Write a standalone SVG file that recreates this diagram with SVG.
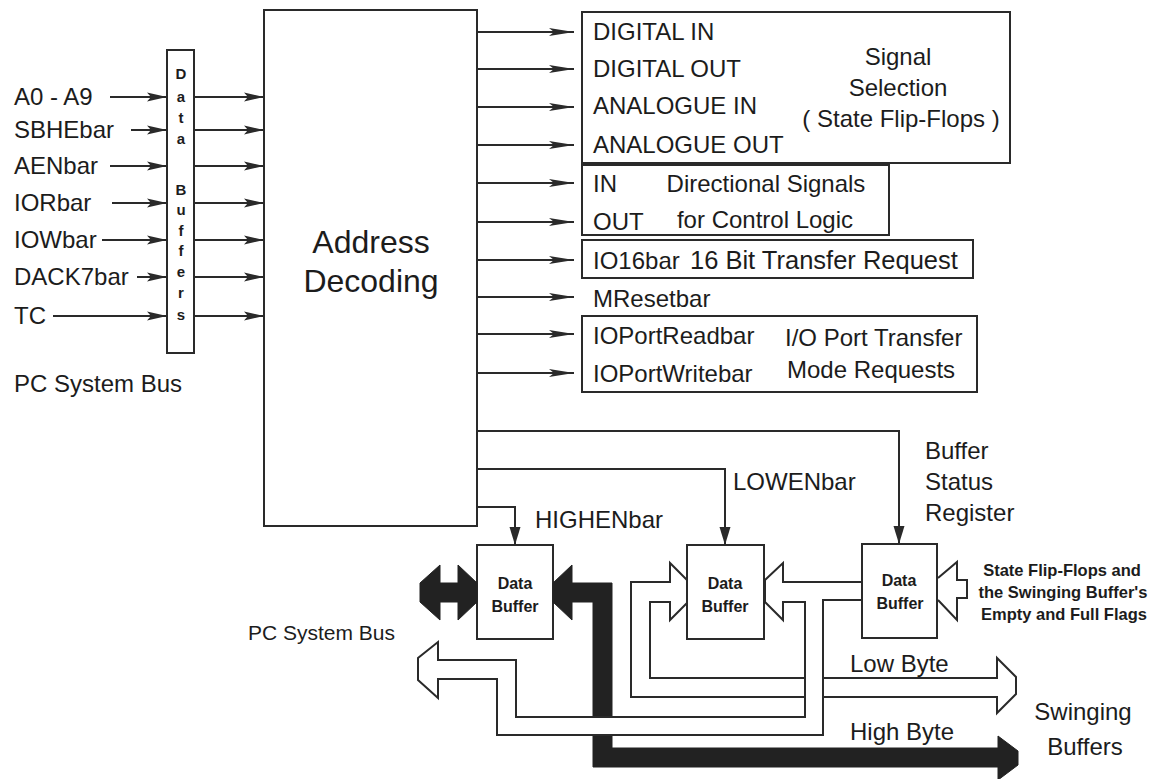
<svg xmlns="http://www.w3.org/2000/svg" width="1158" height="779" viewBox="0 0 1158 779">
<style>
.t{font-family:"Liberation Sans",Arial,sans-serif;font-size:24px;fill:#1c1c1c}
.tb{font-family:"Liberation Sans",Arial,sans-serif;font-weight:bold;fill:#1c1c1c}
.box{fill:#fff;stroke:#2a2a2a;stroke-width:2}
.ln{fill:none;stroke:#2a2a2a;stroke-width:2}
.blk{fill:#222;stroke:#222;stroke-width:1}
</style>
<defs>
<marker id="ahL" markerUnits="userSpaceOnUse" markerWidth="22" markerHeight="10" refX="20" refY="5" orient="auto"><path d="M0,0.5 L20,5 L0,9.5 L4,5 z" fill="#2a2a2a"/></marker>
<marker id="ahR" markerUnits="userSpaceOnUse" markerWidth="27" markerHeight="10" refX="25" refY="5" orient="auto"><path d="M0,1 L25,5 L0,9 L5,5 z" fill="#2a2a2a"/></marker>
<marker id="ahD" markerUnits="userSpaceOnUse" markerWidth="20" markerHeight="12" refX="18" refY="6" orient="auto"><path d="M0,0.5 L18,6 L0,11.5 z" fill="#2a2a2a"/></marker>
</defs>

<g id="pc-bus-inputs">
<text class="t" x="14" y="105">A0 - A9</text>
<text class="t" x="14" y="138">SBHEbar</text>
<text class="t" x="14" y="174">AENbar</text>
<text class="t" x="14" y="211">IORbar</text>
<text class="t" x="14" y="248">IOWbar</text>
<text class="t" x="14" y="285">DACK7bar</text>
<text class="t" x="14" y="324">TC</text>
<text class="t" x="14" y="392">PC System Bus</text>
</g>

<g id="data-buffers">
<rect class="box" x="167" y="50" width="27" height="303"/>
<g class="tb" font-size="15" text-anchor="middle">
<text x="181" y="79">D</text>
<text x="181" y="102">a</text>
<text x="181" y="123">t</text>
<text x="181" y="144">a</text>
<text x="181" y="195">B</text>
<text x="181" y="215">u</text>
<text x="181" y="236">f</text>
<text x="181" y="256">f</text>
<text x="181" y="277">e</text>
<text x="181" y="298">r</text>
<text x="181" y="320">s</text>
</g>
</g>

<g id="address-decoding">
<rect class="box" x="264" y="10" width="213" height="516"/>
<text class="t" x="371" y="253" style="font-size:32px" text-anchor="middle">Address</text>
<text class="t" x="371" y="292" style="font-size:32px" text-anchor="middle">Decoding</text>
</g>

<g id="signal-selection">
<rect class="box" x="582" y="12" width="428" height="151"/>
<text class="t" x="593" y="40">DIGITAL IN</text>
<text class="t" x="593" y="77">DIGITAL OUT</text>
<text class="t" x="593" y="114">ANALOGUE IN</text>
<text class="t" x="593" y="153">ANALOGUE OUT</text>
<text class="t" x="898" y="65" text-anchor="middle">Signal</text>
<text class="t" x="898" y="96" text-anchor="middle">Selection</text>
<text class="t" x="901" y="127" text-anchor="middle">( State Flip-Flops )</text>
</g>

<g id="directional-signals">
<rect class="box" x="582" y="165" width="307" height="70"/>
<text class="t" x="593" y="192">IN</text>
<text class="t" x="593" y="230">OUT</text>
<text class="t" x="766" y="192" text-anchor="middle">Directional Signals</text>
<text class="t" x="765" y="228" text-anchor="middle">for Control Logic</text>
</g>

<g id="io16">
<rect class="box" x="582" y="240" width="391" height="38"/>
<text class="t" x="593" y="269">IO16bar</text>
<text class="t" x="690" y="269" style="font-size:25.5px">16 Bit Transfer Request</text>
</g>

<g id="mreset">
<text class="t" x="593" y="307">MResetbar</text>
</g>

<g id="ioport">
<rect class="box" x="582" y="316" width="395" height="76"/>
<text class="t" x="593" y="344">IOPortReadbar</text>
<text class="t" x="593" y="382">IOPortWritebar</text>
<text class="t" x="785" y="346">I/O Port Transfer</text>
<text class="t" x="787" y="378">Mode Requests</text>
</g>

<g id="data-buffer-high">
<rect class="box" x="477" y="545" width="76" height="94"/>
<text class="tb" x="515" y="589" font-size="16" text-anchor="middle">Data</text>
<text class="tb" x="515" y="612" font-size="16" text-anchor="middle">Buffer</text>
</g>
<g id="data-buffer-low">
<rect class="box" x="687" y="545" width="77" height="94"/>
<text class="tb" x="725" y="589" font-size="16" text-anchor="middle">Data</text>
<text class="tb" x="725" y="612" font-size="16" text-anchor="middle">Buffer</text>
</g>
<g id="data-buffer-status">
<rect class="box" x="862" y="544" width="75" height="94"/>
<text class="tb" x="899" y="586" font-size="16" text-anchor="middle">Data</text>
<text class="tb" x="900" y="609" font-size="16" text-anchor="middle">Buffer</text>
</g>

<g id="labels">
<text class="t" x="535" y="528">HIGHENbar</text>
<text class="t" x="733" y="490">LOWENbar</text>
<text class="t" x="925" y="459">Buffer</text>
<text class="t" x="925" y="490">Status</text>
<text class="t" x="925" y="521">Register</text>
<g class="tb" font-size="16.5" text-anchor="middle">
<text x="1062" y="576">State Flip-Flops and</text>
<text x="1063" y="598">the Swinging Buffer's</text>
<text x="1064" y="620">Empty and Full Flags</text>
</g>
<text class="t" x="248" y="640" style="font-size:21px">PC System Bus</text>
<text class="t" x="850" y="672">Low Byte</text>
<text class="t" x="850" y="740">High Byte</text>
<text class="t" x="1083" y="720" text-anchor="middle">Swinging</text>
<text class="t" x="1085" y="755" text-anchor="middle">Buffers</text>
</g>

<g id="connectors">
<g class="ln" marker-end="url(#ahL)">
<path d="M110,97 H167"/>
<path d="M131,130 H167"/>
<path d="M110,166 H167"/>
<path d="M112,203 H167"/>
<path d="M102,240 H167"/>
<path d="M137,277 H167"/>
<path d="M53,316 H167"/>
<path d="M194,97 H264"/>
<path d="M194,130 H264"/>
<path d="M194,166 H264"/>
<path d="M194,203 H264"/>
<path d="M194,240 H264"/>
<path d="M194,277 H264"/>
<path d="M194,316 H264"/>
</g>
<g class="ln" marker-end="url(#ahR)">
<path d="M477,32 H574"/>
<path d="M477,69 H574"/>
<path d="M477,107 H574"/>
<path d="M477,145 H574"/>
<path d="M477,183 H574"/>
<path d="M477,222 H574"/>
<path d="M477,260 H574"/>
<path d="M477,297 H574"/>
<path d="M477,334 H574"/>
<path d="M477,373 H574"/>
</g>
<g class="ln" marker-end="url(#ahD)">
<path d="M477,431 H899 V544"/>
<path d="M477,469 H725 V545"/>
<path d="M477,507 H515 V545"/>
</g>

<path class="blk" d="M440,565 L420,583 L420,602 L440,620 L440,602 L458,602 L458,620 L477,602 L477,583 L458,565 L458,583 L440,583 Z"/>
<path class="blk" d="M572,565 L553,583 L553,602 L572,620 L572,602 L593,602 L593,767 L998,767 L998,780 L1018,765 L1018,751 L998,736 L998,748 L612,748 L612,583 L572,583 Z"/>
<rect x="589" y="718" width="27" height="17" fill="#fff"/>

<path class="ln" d="M862,582 L783,582 L783,563 L765,580 L765,602 L783,620 L783,602 L805,602 L805,717 L516,717 L516,660 L438,660 L438,642 L418,658 L418,680 L438,698 L438,679 L497,679 L497,735 L823,735 L823,600 L862,600"/>
<path class="ln" d="M687,580 L670,563 L670,582 L631,582 L631,697 L805,697 M823,697 L997,697 L997,713 L1016,694 L1016,677 L997,658 L997,678 L823,678 M805,678 L650,678 L650,602 L670,602 L670,620 L687,603"/>
<path class="ln" d="M938,578 L957,562 L957,580 L967,580 L967,598 L957,598 L957,620 L938,600"/>
</g>
</svg>
